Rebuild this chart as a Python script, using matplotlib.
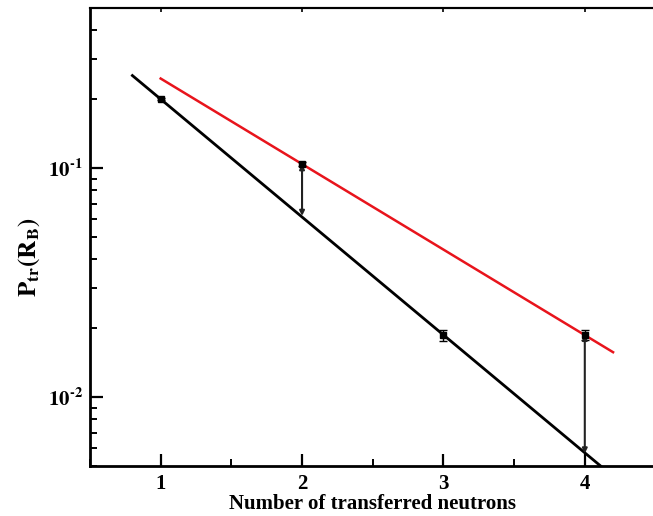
import math

import matplotlib
matplotlib.use("Agg")
import matplotlib.pyplot as plt
from matplotlib.ticker import LogLocator, FixedLocator, FuncFormatter, NullFormatter

# measured transfer probabilities
n_transfer = [1, 2, 3, 4]
p_tr = [0.200, 0.104, 0.0186, 0.0187]
p_err = [0.002, 0.002, 0.0011, 0.0010]

# exponential fits (end points of straight lines on log scale)
black_fit_x = [0.8, 4.15]
black_fit_y = [0.2535, 0.00478]
red_fit_x = [1.0, 4.2]
red_fit_y = [0.246, 0.0157]

# arrows: from measured point down to black fit
arrow_x = [2, 4]
arrow_top = [0.104, 0.0187]
arrow_bottom = [0.0618, 0.00567]

plt.rcParams["mathtext.fontset"] = "stix"
plt.rcParams["font.family"] = "Liberation Serif"
plt.rcParams["font.weight"] = "bold"

fig = plt.figure(figsize=(6.53, 5.16), dpi=100)
ax = fig.add_axes([0.1378, 0.0969, 0.866, 0.8876])

ax.plot(black_fit_x, black_fit_y, color="black", lw=2.0, zorder=2)
ax.plot(red_fit_x, red_fit_y, color="#e8141c", lw=1.8, zorder=2)
ax.errorbar(n_transfer, p_tr, yerr=p_err, fmt="s", color="black", ms=5,
            capsize=3, elinewidth=1.0, capthick=1.0, zorder=3)

for x, top, bot in zip(arrow_x, arrow_top, arrow_bottom):
    ax.annotate("", xy=(x, bot), xytext=(x, top),
                arrowprops=dict(arrowstyle="<|-|>", color="#222222", lw=1.5,
                                mutation_scale=7, shrinkA=0, shrinkB=0))

ax.set_yscale("log")
ax.set_xlim(0.5, 4.5)
ax.set_ylim(0.005, 0.5)

ax.xaxis.set_major_locator(FixedLocator([1, 2, 3, 4]))
ax.xaxis.set_minor_locator(FixedLocator([0.5, 1.5, 2.5, 3.5, 4.5]))
ax.yaxis.set_major_locator(LogLocator(base=10))
ax.yaxis.set_minor_locator(LogLocator(base=10, subs=range(2, 10)))
ax.yaxis.set_minor_formatter(NullFormatter())
ax.yaxis.set_major_formatter(FuncFormatter(
    lambda v, pos: r"$\mathbf{10^{\text{-}%d}}$" % abs(round(math.log10(v)))))
ax.xaxis.set_major_formatter(FuncFormatter(lambda v, pos: "%d" % v))

ax.tick_params(axis="both", which="major", direction="in", length=9, width=1.6,
               labelsize=15, top=False, right=False, pad=6)
ax.tick_params(axis="both", which="minor", direction="in", length=5, width=1.4,
               top=False, right=False)
ax.tick_params(axis="y", which="major", labelsize=15, pad=5)

# short ticks along the top edge
top = ax.secondary_xaxis("top")
top.xaxis.set_major_locator(FixedLocator([1, 2, 3, 4]))
top.tick_params(direction="in", length=3, width=1.2, labelsize=0, labeltop=False)
top.spines["top"].set_linewidth(1.5)

for side in ["left", "bottom"]:
    ax.spines[side].set_linewidth(2.0)
ax.spines["top"].set_linewidth(1.5)
ax.spines["right"].set_visible(False)

ax.set_xlabel("Number of transferred neutrons", fontsize=15, fontweight="bold", labelpad=0)
ax.set_ylabel(r"$\mathbf{P_{tr}(R_B)}$", fontsize=18)
ax.yaxis.set_label_coords(-0.085, 0.456)

fig.savefig("out.png", dpi=100)
